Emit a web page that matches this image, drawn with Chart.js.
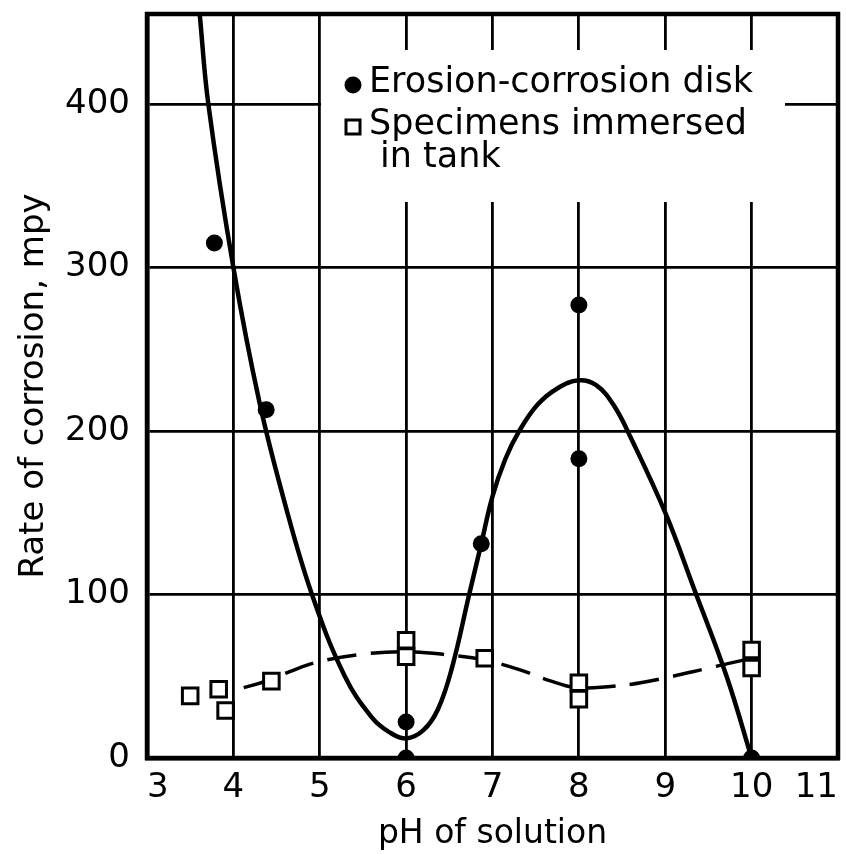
<!DOCTYPE html>
<html>
<head>
<meta charset="utf-8">
<script src="https://cdn.jsdelivr.net/npm/chart.js@4/dist/chart.umd.min.js"></script>
<style>
  body { margin: 0; background: #fff; }
  canvas { display: block; }
</style>
</head>
<body>
<canvas id="corrosionChart" width="846" height="854"></canvas>
<script>
// ---- data ----
const xTicks = [3, 4, 5, 6, 7, 8, 9, 10, 11]
const yTicks = [0, 100, 200, 300, 400]

// erosion-corrosion disk (filled dots)
const diskPH = [3.78, 4.38, 6, 6, 6.87, 8, 8, 10]
const diskRate = [315, 213, 22, 0, 131, 277, 183, 0]

// specimens immersed in tank (open squares)
const tankPH = [3.5, 3.83, 3.91, 4.44, 6, 6, 6.91, 8, 8, 10, 10]
const tankRate = [38, 42, 29, 47, 72, 62, 61, 46, 36, 66, 55]

// hand drawn curve through the disk results (solid)
const diskCurvePH = [3.61, 3.71, 4.0, 4.3, 4.6, 4.91, 5.29, 5.6, 5.8, 6.0, 6.2, 6.37, 6.53, 6.73, 6.87, 7.0, 7.15, 7.31, 7.52, 7.75, 8.0, 8.2, 8.4, 8.6, 9.0, 9.33, 9.71, 10.0]
const diskCurveRate = [455, 400, 300, 218, 155, 100, 50, 25, 16, 12, 17, 30, 55, 100, 131, 160, 183, 200, 216, 226, 231, 228, 216, 196, 150, 104, 50, 0]

// curve through the tank results (dashed)
const tankCurvePH = [4.12, 4.44, 4.66, 5.0, 5.5, 6.0, 6.5, 6.91, 7.31, 7.68, 8.0, 8.59, 9.0, 9.5, 10.0]
const tankCurveRate = [43, 48, 53, 59, 63.5, 65, 63, 60, 54, 47, 43, 45, 49, 55, 61]

const legendLines = ['Erosion-corrosion disk', 'Specimens immersed', 'in tank']
const xTitle = 'pH of solution'
const yTitle = 'Rate of corrosion, mpy'

const toPoints = (xs, ys) => xs.map((x, i) => ({ x: x, y: ys[i] }))

Chart.defaults.font.family = '"DejaVu Sans", sans-serif'
Chart.defaults.font.size = 34
Chart.defaults.color = '#000'

// white patch behind the key, frame on top/right, and the key itself
const paperPlugin = {
    id: 'paper',
    beforeDatasetsDraw(chart) {
        const ctx = chart.ctx
        const a = chart.chartArea
        ctx.save()
        ctx.fillStyle = '#fff'
        ctx.fillRect(a.left + 174, a.top + 36, 464, 152)
        ctx.restore()
    },
    afterDraw(chart) {
        const ctx = chart.ctx
        const a = chart.chartArea
        ctx.save()
        ctx.strokeStyle = '#000'
        ctx.lineWidth = 4.5
        ctx.strokeRect(a.left, a.top, a.right - a.left, a.bottom - a.top)

        // key
        ctx.fillStyle = '#000'
        ctx.beginPath()
        ctx.arc(a.left + 206, a.top + 71, 8.5, 0, Math.PI * 2)
        ctx.fill()
        ctx.lineWidth = 3
        ctx.strokeRect(a.left + 199, a.top + 106, 14, 14)

        ctx.font = '35px "DejaVu Sans", sans-serif'
        ctx.textBaseline = 'alphabetic'
        ctx.fillText(legendLines[0], a.left + 222, a.top + 78)
        ctx.fillText(legendLines[1], a.left + 222, a.top + 120)
        ctx.fillText(legendLines[2], a.left + 233, a.top + 153)
        ctx.restore()
    }
}

const ctx = document.getElementById('corrosionChart').getContext('2d')
const chart = new Chart(ctx, {
    type: 'scatter',
    data: {
        datasets: [{
            label: legendLines[0],
            data: toPoints(diskPH, diskRate),
            pointStyle: 'circle',
            pointRadius: 8.5,
            backgroundColor: '#000',
            borderColor: '#000',
            borderWidth: 0,
            clip: 0
        }, {
            label: legendLines[1] + ' ' + legendLines[2],
            data: toPoints(tankPH, tankRate),
            pointStyle: 'rect',
            pointRadius: 11,
            backgroundColor: '#fff',
            borderColor: '#000',
            borderWidth: 3,
            clip: 0
        }, {
            label: 'tank curve',
            data: toPoints(tankCurvePH, tankCurveRate),
            showLine: true,
            pointRadius: 0,
            borderColor: '#000',
            borderWidth: 3.5,
            borderDash: [30, 14],
            tension: 0.4,
            fill: false
        }, {
            label: 'disk curve',
            data: toPoints(diskCurvePH, diskCurveRate),
            showLine: true,
            pointRadius: 0,
            borderColor: '#000',
            borderWidth: 4.5,
            tension: 0.4,
            fill: false,
            clip: 0
        }]
    },
    options: {
        responsive: false,
        devicePixelRatio: 1,
        animation: false,
        layout: { autoPadding: false, padding: { left: 10, top: 14, right: 8, bottom: 0 } },
        plugins: {
            legend: { display: false },
            tooltip: { enabled: false }
        },
        scales: {
            x: {
                type: 'linear',
                min: 3,
                max: 11,
                afterBuildTicks: s => { s.ticks = xTicks.map(v => ({ value: v })) },
                afterFit: s => { s.height = 96; s.paddingLeft = 0; s.paddingRight = 0 },
                ticks: { align: 'inner', padding: 10, font: { size: 34 } },
                grid: { color: '#000', lineWidth: 2.8, drawTicks: false },
                border: { color: '#000', width: 4.5 },
                title: { display: true, text: xTitle, font: { size: 33 }, padding: { top: 0, bottom: 0 } }
            },
            y: {
                type: 'linear',
                min: 0,
                max: 455,
                afterBuildTicks: s => { s.ticks = yTicks.map(v => ({ value: v })) },
                afterFit: s => { s.width = 137; s.paddingTop = 0; s.paddingBottom = 0 },
                ticks: { padding: 17, font: { size: 34 } },
                grid: { color: '#000', lineWidth: 2.8, drawTicks: false },
                border: { color: '#000', width: 4.5 },
                title: { display: true, text: yTitle, font: { size: 34 }, padding: { top: 4, bottom: 0 } }
            }
        }
    },
    plugins: [paperPlugin]
})
</script>
</body>
</html>
